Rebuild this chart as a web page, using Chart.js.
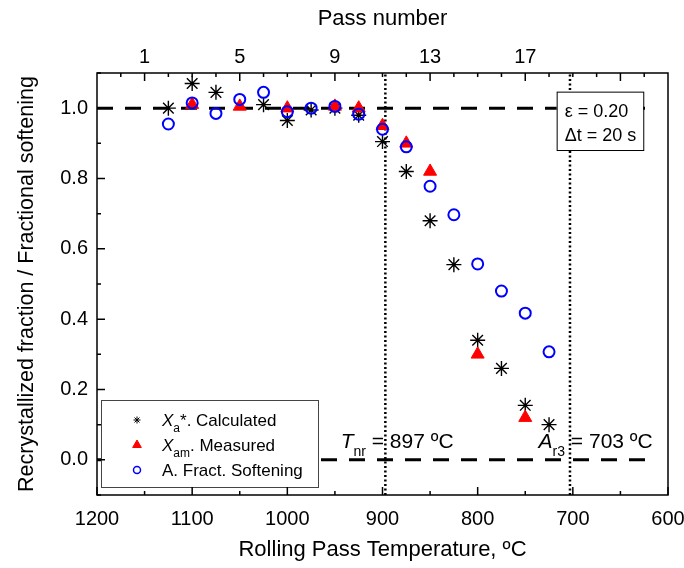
<!DOCTYPE html>
<html>
<head>
<meta charset="utf-8">
<script src="https://cdn.jsdelivr.net/npm/chart.js@4.4.1/dist/chart.umd.min.js"></script>
<style>
  html, body { margin: 0; padding: 0; background: #fff; }
</style>
</head>
<body>
<canvas id="mycanvas" width="684" height="568"></canvas>
<script>
// calculated recrystallized fraction Xa*
var calc_temp = [1125, 1100, 1075, 1025, 1000, 975, 950, 925, 900, 875, 850, 825, 800, 775, 750, 725];
var calc_frac = [1.00, 1.07, 1.045, 1.01, 0.965, 0.995, 1.00, 0.98, 0.905, 0.82, 0.68, 0.555, 0.34, 0.26, 0.155, 0.10];

// measured Xam
var meas_temp = [1100, 1050, 1000, 950, 925, 900, 875, 850, 800, 750];
var meas_frac = [1.01, 1.005, 1.0, 1.005, 1.0, 0.95, 0.90, 0.82, 0.30, 0.12];

// apparent fractional softening
var soft_temp = [1125, 1100, 1075, 1050, 1025, 1000, 975, 950, 925, 900, 875, 850, 825, 800, 775, 750, 725];
var soft_frac = [0.955, 1.015, 0.985, 1.025, 1.045, 0.99, 1.0, 1.005, 0.983, 0.94, 0.89, 0.778, 0.697, 0.557, 0.48, 0.417, 0.307];

var pass_ticks = [1, 5, 9, 13, 17];
var frac_ticks = [0, 0.2, 0.4, 0.6, 0.8, 1.0];
var ref_levels = [1.0, 0.0];
var T_nr = 897;
var A_r3 = 703;
var strain = "0.20";
var interpass = "20 s";

var FONT = "'Liberation Sans', Arial, sans-serif";

function pts(xs, ys) {
  var out = [];
  for (var i = 0; i < xs.length; i++) out.push({x: xs[i], y: ys[i]});
  return out;
}

var datasets = [
  {
    label: "A. Fract. Softening",
    data: pts(soft_temp, soft_frac),
    pointStyle: "circle",
    pointRadius: 5.5,
    borderWidth: 2,
    borderColor: "#0000ff",
    backgroundColor: "rgba(0,0,0,0)",
    order: 1
  },
  {
    label: "Xam. Measured",
    data: pts(meas_temp, meas_frac),
    pointStyle: "triangle",
    pointRadius: 7.5,
    borderWidth: 1,
    borderColor: "#ff0000",
    backgroundColor: "#ff0000",
    order: 2
  },
  {
    label: "Xa*. Calculated",
    data: pts(calc_temp, calc_frac),
    pointStyle: "star",
    pointRadius: 7.5,
    borderWidth: 1.4,
    borderColor: "#000",
    backgroundColor: "#000",
    order: 3
  }
];

// horizontal dashed levels
ref_levels.forEach(function(v) {
  datasets.push({
    data: [{x: 1200, y: v}, {x: 622, y: v}],
    showLine: true,
    borderColor: "#000",
    borderWidth: 3,
    borderDash: [16, 12],
    pointRadius: 0,
    order: 10
  });
});

// vertical dotted lines at Tnr and Ar3
[T_nr, A_r3].forEach(function(t) {
  datasets.push({
    data: [{x: t, y: -0.1}, {x: t, y: 1.1}],
    showLine: true,
    borderColor: "#000",
    borderWidth: 2.5,
    borderDash: [2, 2.5],
    pointRadius: 0,
    order: 11
  });
});

function rich(ctx, parts, x, y) {
  parts.forEach(function(p) {
    ctx.font = (p.italic ? "italic " : "") + p.size + "px " + FONT;
    ctx.fillText(p.t, x, y + (p.dy || 0));
    x += ctx.measureText(p.t).width;
  });
}

var extras = {
  id: "extras",
  afterDatasetsDraw: function(chart) {
    var ctx = chart.ctx, a = chart.chartArea;
    var xs = chart.scales.x, ys = chart.scales.y;
    ctx.save();
    ctx.fillStyle = "#000";
    ctx.textBaseline = "alphabetic";

    // Tnr / Ar3 labels
    var base = ys.getPixelForValue(0.034);
    rich(ctx, [
      {t: "T", italic: true, size: 21},
      {t: "nr", size: 14, dy: 8},
      {t: " = " + T_nr + " ºC", size: 21}
    ], xs.getPixelForValue(944), base);
    rich(ctx, [
      {t: "A", italic: true, size: 21},
      {t: "r3", size: 14, dy: 8},
      {t: " = " + A_r3 + " ºC", size: 21}
    ], xs.getPixelForValue(736), base);

    // strain / interpass time box
    var bl = xs.getPixelForValue(717), br = xs.getPixelForValue(626);
    var bt = ys.getPixelForValue(1.047), bb = ys.getPixelForValue(0.881);
    ctx.fillStyle = "#fff";
    ctx.fillRect(bl, bt, br - bl, bb - bt);
    ctx.strokeStyle = "#000";
    ctx.lineWidth = 1;
    ctx.strokeRect(bl + 0.5, bt + 0.5, br - bl, bb - bt);
    ctx.fillStyle = "#000";
    rich(ctx, [{t: "ε = " + strain, size: 18}], bl + 8, bt + 25);
    rich(ctx, [{t: "Δt = " + interpass, size: 18}], bl + 8, bt + 49);

    // legend
    var L = a.left + 4, T = a.bottom - 95, W = 217, H = 87;
    ctx.fillStyle = "#fff";
    ctx.fillRect(L, T, W, H);
    ctx.strokeStyle = "#444";
    ctx.lineWidth = 1;
    ctx.strokeRect(L + 0.5, T + 0.5, W, H);
    var rows = [
      {ds: datasets[2], r: 3.5, parts: [
        {t: "X", italic: true, size: 17}, {t: "a", size: 12, dy: 6}, {t: "*. Calculated", size: 17}]},
      {ds: datasets[1], r: 5, parts: [
        {t: "X", italic: true, size: 17}, {t: "am", size: 12, dy: 6}, {t: ". Measured", size: 17}]},
      {ds: datasets[0], r: 3.5, parts: [
        {t: "A. Fract. Softening", size: 17}]}
    ];
    rows.forEach(function(row, i) {
      var cy = T + 20 + i * 25;
      ctx.strokeStyle = row.ds.borderColor;
      ctx.fillStyle = row.ds.backgroundColor;
      ctx.lineWidth = row.ds.pointStyle === "circle" ? 1.5 : 1;
      Chart.helpers.drawPoint(ctx, {pointStyle: row.ds.pointStyle, radius: row.r, rotation: 0, borderWidth: ctx.lineWidth}, L + 36, cy);
      ctx.fillStyle = "#000";
      rich(ctx, row.parts, L + 61, cy + 6);
    });
    ctx.restore();
  },
  afterDraw: function(chart) {
    var ctx = chart.ctx, a = chart.chartArea;
    var xs = chart.scales.x, ys = chart.scales.y, ps = chart.scales.pass;
    ctx.save();
    ctx.strokeStyle = "#000";
    ctx.lineWidth = 1.5;
    ctx.beginPath();
    // inward ticks, bottom axis
    for (var t = 600; t <= 1200; t += 50) {
      var px = xs.getPixelForValue(t);
      ctx.moveTo(px, a.bottom);
      ctx.lineTo(px, a.bottom - (t % 100 === 0 ? 8 : 4));
    }
    // left axis
    for (var k = -1; k <= 11; k++) {
      var py = ys.getPixelForValue(k / 10);
      ctx.moveTo(a.left, py);
      ctx.lineTo(a.left + (k % 2 === 0 ? 8 : 4), py);
    }
    // top axis, one tick per pass
    for (var n = 0; n <= 22; n++) {
      var qx = ps.getPixelForValue(n);
      ctx.moveTo(qx, a.top);
      ctx.lineTo(qx, a.top + ((n - 1) % 4 === 0 ? 8 : 4));
    }
    ctx.stroke();
    ctx.strokeRect(a.left, a.top, a.right - a.left, a.bottom - a.top);
    ctx.restore();
  }
};

function fitX(s) {
  s.height = 73;
  s.paddingLeft = 0;
  s.paddingRight = 0;
}

var ctx = document.getElementById("mycanvas");

var chart = new Chart(ctx, {
  type: "scatter",
  data: {datasets: datasets},
  options: {
    responsive: false,
    animation: false,
    devicePixelRatio: 1,
    layout: {padding: {left: 0, right: 16, top: 0, bottom: 0}},
    plugins: {legend: {display: false}, tooltip: {enabled: false}},
    scales: {
      x: {
        type: "linear",
        position: "bottom",
        reverse: true,
        min: 600,
        max: 1200,
        grid: {display: false, drawTicks: false},
        border: {display: false},
        ticks: {stepSize: 100, color: "#000", padding: 12, font: {family: FONT, size: 20},
                callback: function(v) { return String(v); }},
        title: {display: true, text: "Rolling Pass Temperature, ºC", color: "#000",
                font: {family: FONT, size: 22}, padding: {top: 0, bottom: 5}},
        afterFit: fitX
      },
      pass: {
        type: "linear",
        position: "top",
        min: -1,
        max: 23,
        grid: {display: false, drawTicks: false},
        border: {display: false},
        afterBuildTicks: function(s) { s.ticks = pass_ticks.map(function(v) { return {value: v}; }); },
        ticks: {color: "#000", padding: 4, font: {family: FONT, size: 20}},
        title: {display: true, text: "Pass number", color: "#000",
                font: {family: FONT, size: 22}, padding: {top: 6, bottom: 0}},
        afterFit: fitX
      },
      y: {
        type: "linear",
        position: "left",
        min: -0.1,
        max: 1.1,
        grid: {display: false, drawTicks: false},
        border: {display: false},
        afterBuildTicks: function(s) { s.ticks = frac_ticks.map(function(v) { return {value: v}; }); },
        ticks: {color: "#000", padding: 9, font: {family: FONT, size: 20},
                callback: function(v) { return v.toFixed(1); }},
        title: {display: true, text: "Recrystallized fraction / Fractional softening", color: "#000",
                font: {family: FONT, size: 21.5}, padding: {top: 14, bottom: 0}},
        afterFit: function(s) { s.width = 97; s.paddingTop = 0; s.paddingBottom = 0; }
      }
    }
  },
  plugins: [extras]
});
</script>
</body>
</html>
